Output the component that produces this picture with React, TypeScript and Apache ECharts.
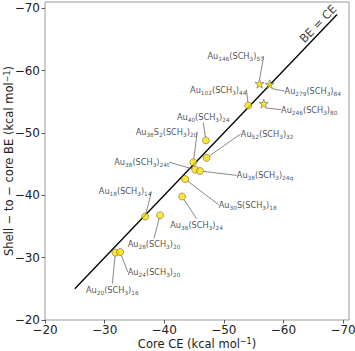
import React, { useEffect, useRef } from "react";
import * as echarts from "echarts";

// Circles (smaller clusters)
const circleNames = [
  "Au20(SCH3)16", "Au24(SCH3)20", "Au18(SCH3)14", "Au28(SCH3)20",
  "Au36(SCH3)24", "Au30S(SCH3)18", "Au38(SCH3)24t", "Au38(SCH3)24q",
  "Au38S2(SCH3)20", "Au52(SCH3)32", "Au40(SCH3)24", "Au102(SCH3)44",
];
const circleCE = [-31.8, -32.6, -36.8, -39.3, -43.0, -43.5, -45.2, -46.0, -44.9, -47.1, -47.0, -54.1];
const circleBE = [-30.8, -30.9, -36.6, -36.8, -39.8, -42.6, -44.1, -43.9, -45.3, -46.0, -48.8, -54.4];

// Stars (large clusters)
const starNames = ["Au146(SCH3)57", "Au279(SCH3)84", "Au246(SCH3)80"];
const starCE = [-56.0, -57.7, -56.7];
const starBE = [-57.9, -57.8, -54.7];

// BE = CE reference line
const lineCE = [-25, -69];
const lineLabel = "BE = CE";
const lineLabelAt = [-65.8, -67.5];

const tickValues = [-70, -60, -50, -40, -30, -20];

// label offsets (layout only)
const circleLabelOffsets = [
  [-3, 37], [34, 20], [-20, -25], [-6, 29], [14.5, 28.3], [62.6, 25.7],
  [-53.5, -7.5], [65, 4.4], [-27, -30.7], [60.6, -24], [-2.7, -23.7], [-30, -16],
];
const starLabelOffsets = [[-24, -27.6], [43, 6.7], [45.5, 6]];

const FONT = "DejaVu Sans";
const toRich = (s: string) => s.replace(/(\d+[tq]?)/g, "{s|$1}");
const fmtMinus = (v: number) => String(v).replace("-", "\u2212");

const labelRich = {
  s: { fontSize: 5.8, fontFamily: FONT, color: "#222", verticalAlign: "bottom", lineHeight: 6 },
};

function App() {
  const ref = useRef<HTMLDivElement>(null);
  useEffect(() => {
    if (!ref.current) return;
    const chart = echarts.init(ref.current, undefined, { renderer: "svg" });
    const labelCommon = {
      show: true,
      position: "inside",
      fontSize: 8.2,
      fontFamily: FONT,
      color: "#222",
      lineHeight: 12,
      formatter: (p: any) => toRich(p.name),
      rich: labelRich,
    };
    const axisCommon = (name: string) => ({
      type: "value",
      inverse: true,
      min: -71,
      max: -20,
      name,
      nameLocation: "middle",
      nameMoveOverlap: false,
      nameTextStyle: {
        fontSize: 11.5,
        fontFamily: FONT,
        color: "#222",
        rich: {
          sup: { fontSize: 8, fontFamily: FONT, color: "#222", verticalAlign: "top", lineHeight: 8 },
        },
      },
      axisLine: { show: false },
      axisTick: {
        show: true,
        inside: false,
        length: 3.5,
        lineStyle: { color: "#333", width: 0.8 },
        customValues: tickValues,
      },
      axisLabel: {
        fontSize: 12,
        fontFamily: FONT,
        color: "#222",
        customValues: tickValues,
        formatter: (v: number) => fmtMinus(v),
      },
      splitLine: { show: false },
    });
    const xAxis: any = axisCommon("Core CE (kcal mol{sup|\u22121})");
    xAxis.nameGap = 17.5;
    xAxis.axisLabel.margin = 4;
    const yAxis: any = axisCommon("Shell \u2212 to \u2212 core BE (kcal mol{sup|\u22121})");
    yAxis.nameGap = 30;
    yAxis.axisLabel.margin = 5;

    chart.setOption({
      animation: false,
      grid: {
        left: 45,
        right: 6,
        top: 2,
        bottom: 31,
        containLabel: false,
        outerBoundsMode: "none",
        show: true,
        borderColor: "#999",
        borderWidth: 1,
        backgroundColor: "transparent",
      },
      xAxis,
      yAxis,
      series: [
        {
          type: "line",
          data: lineCE.map((v) => [v, v]),
          symbol: "none",
          lineStyle: { color: "#000", width: 1.3 },
          z: 1,
        },
        {
          type: "scatter",
          data: [{ name: lineLabel, value: lineLabelAt }],
          symbolSize: 1,
          itemStyle: { color: "rgba(0,0,0,0)" },
          label: {
            show: true,
            position: "inside",
            rotate: 46,
            fontSize: 11.5,
            fontFamily: FONT,
            color: "#000",
            formatter: "{b}",
          },
          labelLayout: { hideOverlap: false },
          silent: true,
          z: 4,
        },
        {
          type: "scatter",
          data: circleNames.map((n, i) => ({ name: n, value: [circleCE[i], circleBE[i]] })),
          symbol: "circle",
          symbolSize: 7,
          itemStyle: { color: "#FFE000", borderColor: "#444", borderWidth: 0.6 },
          label: labelCommon,
          labelLine: { show: true, lineStyle: { color: "#555", width: 0.7 } },
          labelLayout: (p: any) => ({
            dx: circleLabelOffsets[p.dataIndex][0],
            dy: circleLabelOffsets[p.dataIndex][1],
          }),
          z: 3,
        },
        {
          type: "scatter",
          data: starNames.map((n, i) => ({ name: n, value: [starCE[i], starBE[i]] })),
          symbol:
            "path://M50,0 L61.8,35.1 L98.9,35.1 L68.9,56.9 L80.3,91.9 L50,70.3 L19.7,91.9 L31.1,56.9 L1.1,35.1 L38.2,35.1 Z",
          symbolSize: 9,
          itemStyle: { color: "#FFE000", borderColor: "#444", borderWidth: 0.6 },
          label: labelCommon,
          labelLine: { show: true, lineStyle: { color: "#555", width: 0.7 } },
          labelLayout: (p: any) => ({
            dx: starLabelOffsets[p.dataIndex][0],
            dy: starLabelOffsets[p.dataIndex][1],
          }),
          z: 3,
        },
      ],
    });
    return () => chart.dispose();
  }, []);
  return <div ref={ref} style={{ width: 355, height: 351, position: "absolute", left: 0, top: 0 }} />;
}

export default App;
